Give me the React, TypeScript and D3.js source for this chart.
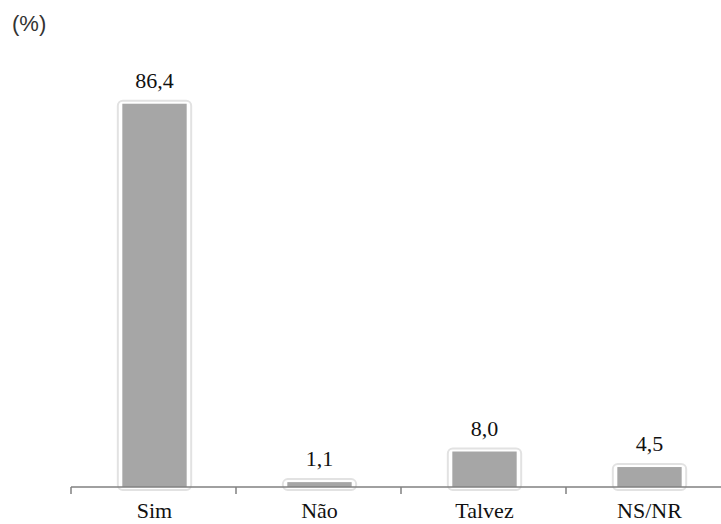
import React from "react";
import * as d3 from "d3";

const categories: string[] = ["Sim", "Não", "Talvez", "NS/NR"];
const values: number[] = [86.4, 1.1, 8.0, 4.5];
const valueLabels: string[] = ["86,4", "1,1", "8,0", "4,5"];
const unitLabel = "(%)";

const W = 721;
const H = 524;
const axisY = 487;
const x0 = 71;
const band = 165;

export default function App() {
  const x = d3
    .scaleBand<string>()
    .domain(categories)
    .range([x0, x0 + band * categories.length])
    .paddingInner(0.61)
    .paddingOuter(0.305);
  const y = d3.scaleLinear().domain([0, 100]).range([axisY, 43.4]);
  const ticks = d3.range(categories.length + 1).map((i) => x0 + band * i);
  const serifStyle = {
    fontFamily: '"Liberation Serif", "Times New Roman", Times, "DejaVu Serif", serif',
  };
  return (
    <svg
      width={W}
      height={H}
      style={{ position: "fixed", left: 0, top: 0, background: "#fff" }}
    >
      <text
        x={12}
        y={31}
        style={{ fontFamily: '"Liberation Sans", Arial, sans-serif' }}
        fontSize={22}
        fill="#333"
      >
        {unitLabel}
      </text>
      {categories.map((c, i) => {
        const bx = (x(c) as number) + 1;
        const bw = x.bandwidth();
        const top = y(values[i]);
        return (
          <g key={c}>
            <rect
              x={bx - 4.5}
              y={top - 3}
              width={bw + 9}
              height={axisY + 3 - (top - 3)}
              rx={5}
              ry={5}
              fill="#fff"
              stroke="#e2e2e2"
              strokeWidth={2}
            />
            <rect x={bx} y={top} width={bw} height={axisY - top} fill="#a6a6a6" />
            <text
              x={bx + bw / 2}
              y={top - 16}
              textAnchor="middle"
              style={serifStyle}
              fontSize={22}
              fill="#111"
            >
              {valueLabels[i]}
            </text>
            <text
              x={bx + bw / 2}
              y={518}
              textAnchor="middle"
              style={serifStyle}
              fontSize={22}
              fill="#111"
            >
              {c}
            </text>
          </g>
        );
      })}
      <line x1={x0} x2={W} y1={axisY} y2={axisY} stroke="#808080" strokeWidth={1.5} />
      {ticks.map((t) => (
        <line key={t} x1={t} x2={t} y1={axisY} y2={axisY + 7} stroke="#808080" strokeWidth={1.5} />
      ))}
    </svg>
  );
}
